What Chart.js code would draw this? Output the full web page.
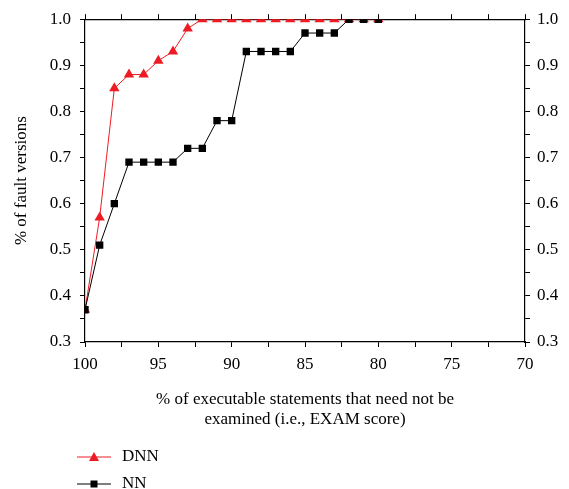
<!DOCTYPE html>
<html>
<head>
<meta charset="utf-8">
<script src="https://cdn.jsdelivr.net/npm/chart.js@4/dist/chart.umd.min.js"></script>
<style>
  body { margin: 0; background: #fff; }
  canvas { display: block; }
</style>
</head>
<body>
<canvas id="chart" width="569" height="489"></canvas>
<script>
// EXAM score (% of statements not examined), plotted right-to-left
const examScores = [100, 99, 98, 97, 96, 95, 94, 93, 92, 91, 90, 89, 88, 87, 86, 85, 84, 83, 82, 81, 80];
const dnnValues = [0.37, 0.57, 0.85, 0.88, 0.88, 0.91, 0.93, 0.98, 1.0, 1.0, 1.0, 1.0, 1.0, 1.0, 1.0, 1.0, 1.0, 1.0, 1.0, 1.0, 1.0];
const nnValues  = [0.37, 0.51, 0.60, 0.69, 0.69, 0.69, 0.69, 0.72, 0.72, 0.78, 0.78, 0.93, 0.93, 0.93, 0.93, 0.97, 0.97, 0.97, 1.0, 1.0, 1.0];
const xTickValues = [100, 95, 90, 85, 80, 75, 70];
const yTickValues = [0.3, 0.4, 0.5, 0.6, 0.7, 0.8, 0.9, 1.0];

const RED = 'rgb(237, 28, 36)';
const FONT = "'Liberation Serif', 'DejaVu Serif', serif";

function toPoints(values) {
    return examScores.map((x, i) => ({ x: x, y: values[i] }));
}

// major + minor ticks, only majors get a label
function withMinor(majors) {
    const out = [];
    for (let i = 0; i < majors.length; i++) {
        out.push({ value: majors[i], major: true });
        if (i < majors.length - 1) {
            out.push({ value: (majors[i] + majors[i + 1]) / 2, major: false });
        }
    }
    return out;
}

const tickFont = { family: FONT, size: 17 };

function xAxis(position, showLabels) {
    return {
        type: 'linear',
        position: position,
        min: 70,
        max: 100,
        reverse: true,
        afterBuildTicks: scale => { scale.ticks = withMinor(xTickValues); },
        afterFit: scale => { scale.height = position === 'top' ? 18 : 147; },
        grid: { drawOnChartArea: false, drawTicks: true, tickLength: 5, color: '#000', tickWidth: 1 },
        border: { display: true, color: '#000', width: 1.2 },
        ticks: {
            display: showLabels,
            autoSkip: false,
            maxRotation: 0,
            color: '#000',
            font: tickFont,
            padding: 7,
            callback: (v, i, ticks) => ticks[i].major ? String(v) : ''
        },
        title: position === 'bottom' ? {
            display: true,
            text: ['% of executable statements that need not be', 'examined (i.e., EXAM score)'],
            color: '#000',
            font: { family: FONT, size: 17, lineHeight: 1.15 },
            padding: { top: 0, bottom: 60 }
        } : { display: false }
    };
}

function yAxis(position) {
    return {
        type: 'linear',
        position: position,
        min: 0.3,
        max: 1.0,
        afterBuildTicks: scale => { scale.ticks = withMinor(yTickValues); },
        afterFit: scale => { scale.width = position === 'left' ? 85 : 44; },
        grid: { drawOnChartArea: false, drawTicks: true, tickLength: 5, color: '#000', tickWidth: 1 },
        border: { display: true, color: '#000', width: 1.2 },
        ticks: {
            autoSkip: false,
            color: '#000',
            font: tickFont,
            padding: position === 'left' ? 9 : 7,
            callback: (v, i, ticks) => ticks[i].major ? Number(v).toFixed(1) : ''
        },
        title: position === 'left' ? {
            display: true,
            text: '% of fault versions',
            color: '#000',
            font: { family: FONT, size: 17 },
            padding: { top: 11, bottom: 0 }
        } : { display: false }
    };
}

// legend below the axis title: line - marker - line, then the name
const legendBelow = {
    id: 'legendBelow',
    afterDraw(chart) {
        const ctx = chart.ctx;
        const rows = [
            { name: 'DNN', color: RED, marker: 'triangle', y: 457 },
            { name: 'NN', color: '#000', marker: 'rect', y: 484 }
        ];
        ctx.save();
        rows.forEach(r => {
            ctx.strokeStyle = r.color;
            ctx.fillStyle = r.color;
            ctx.lineWidth = 1;
            ctx.beginPath();
            ctx.moveTo(77, r.y);
            ctx.lineTo(111, r.y);
            ctx.stroke();
            ctx.beginPath();
            if (r.marker === 'triangle') {
                ctx.moveTo(94, r.y - 5);
                ctx.lineTo(99, r.y + 4);
                ctx.lineTo(89, r.y + 4);
            } else {
                ctx.rect(90.5, r.y - 3.5, 7, 7);
            }
            ctx.closePath();
            ctx.fill();
            ctx.fillStyle = '#000';
            ctx.font = '17px ' + FONT;
            ctx.textBaseline = 'middle';
            ctx.fillText(r.name, 122, r.y);
        });
        ctx.restore();
    }
};

new Chart(document.getElementById('chart').getContext('2d'), {
    type: 'line',
    data: {
        datasets: [
            {
                label: 'DNN',
                data: toPoints(dnnValues),
                borderColor: RED,
                backgroundColor: RED,
                borderWidth: 1,
                pointStyle: 'triangle',
                pointRadius: 6,
                pointBorderWidth: 0,
                pointBackgroundColor: RED,
                tension: 0,
                xAxisID: 'x',
                yAxisID: 'y',
                order: 2
            },
            {
                label: 'NN',
                data: toPoints(nnValues),
                borderColor: '#000',
                backgroundColor: '#000',
                borderWidth: 1,
                pointStyle: 'rect',
                pointRadius: 5.2,
                pointBorderWidth: 0,
                pointBackgroundColor: '#000',
                tension: 0,
                xAxisID: 'x',
                yAxisID: 'y',
                order: 1
            }
        ]
    },
    options: {
        responsive: false,
        animation: false,
        layout: { padding: 0 },
        plugins: {
            legend: { display: false },
            tooltip: { enabled: false }
        },
        scales: {
            x: xAxis('bottom', true),
            x2: xAxis('top', false),
            y: yAxis('left'),
            y2: yAxis('right')
        }
    },
    plugins: [legendBelow]
});
</script>
</body>
</html>
